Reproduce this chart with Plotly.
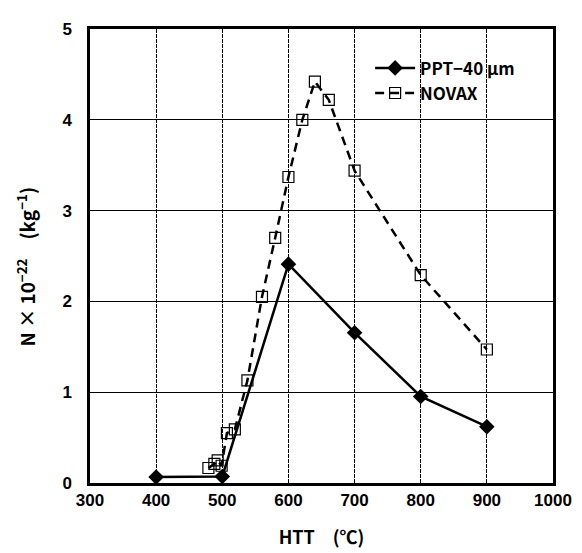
import plotly.graph_objects as go

ppt_x = [400, 500, 600, 700, 800, 900]
ppt_y = [0.065, 0.072, 2.41, 1.655, 0.953, 0.62]

novax_x = [479, 488, 493, 499, 507, 519, 538, 560, 580, 600, 621, 640, 661, 700, 800, 900]
novax_y = [0.165, 0.21, 0.25, 0.19, 0.55, 0.59, 1.13, 2.05, 2.70, 3.37, 4.00, 4.42, 4.22, 3.44, 2.29, 1.47]

x_ticks = [300, 400, 500, 600, 700, 800, 900, 1000]
y_ticks = [0, 1, 2, 3, 4, 5]

fig = go.Figure()
fig.add_trace(go.Scatter(
    x=ppt_x, y=ppt_y, mode="lines+markers", name="PPT−40 μm",
    line=dict(color="black", width=2.5),
    marker=dict(symbol="diamond", size=12, color="black"),
))
fig.add_trace(go.Scatter(
    x=novax_x, y=novax_y, mode="lines+markers", name="NOVAX",
    line=dict(color="black", width=2.5, dash="9px,6px"),
    marker=dict(symbol="square-open", size=11, color="black", line=dict(width=1.2)),
))

font_main = "Liberation Sans, Arial, sans-serif"
font_cjk = "Noto Sans CJK JP, sans-serif"

fig.update_layout(
    width=582, height=553,
    margin=dict(l=82, r=37, t=12, b=78),
    paper_bgcolor="white", plot_bgcolor="white",
    showlegend=True,
    legend=dict(
        x=0.605, y=0.953, xanchor="left", yanchor="top",
        bgcolor="rgba(0,0,0,0)", borderwidth=0,
        font=dict(family=font_cjk, size=17, color="black", weight="bold"),
        tracegroupgap=0, itemwidth=40,
    ),
    font=dict(family=font_main, color="black"),
)
fig.update_xaxes(
    range=[300, 1000], tickvals=x_ticks, ticktext=[str(v) for v in x_ticks],
    showgrid=True, gridcolor="black", gridwidth=1.3, griddash="4px,1px",
    showline=True, linecolor="black", linewidth=2.5, mirror=True,
    ticks="", zeroline=False,
    tickfont=dict(family=font_main, size=17, color="black", weight="bold"),
    title=dict(text="HTT　(℃)", font=dict(family=font_cjk, size=18, color="black", weight="bold"), standoff=23),
)
fig.update_yaxes(
    range=[0, 5], tickvals=y_ticks, ticktext=[str(v) for v in y_ticks],
    showgrid=True, gridcolor="black", gridwidth=1.2,
    showline=True, linecolor="black", linewidth=2.5, mirror=True,
    ticks="", zeroline=False, ticklabelstandoff=12,
    tickfont=dict(family=font_main, size=17, color="black", weight="bold"),
    title=dict(text="N × 10<sup>−22</sup>　(kg<sup>−1</sup>)<span style='color:rgba(0,0,0,0)'>xx</span>",
               font=dict(family=font_cjk, size=19, color="black", weight="bold"), standoff=22),
)

fig.write_html("out.html")
